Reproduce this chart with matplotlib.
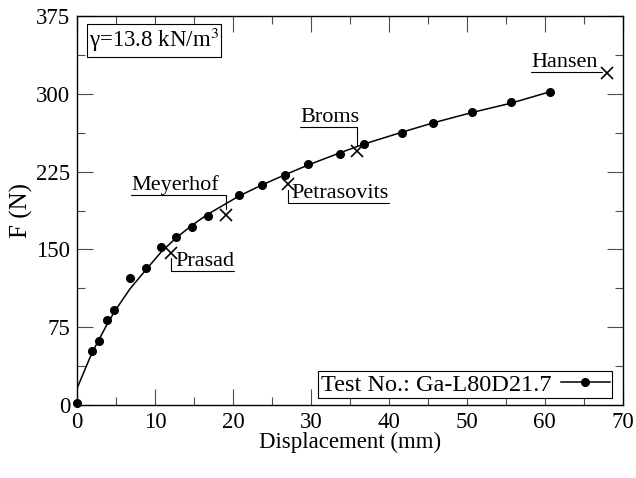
import matplotlib
matplotlib.use('Agg')
import matplotlib.pyplot as plt

plt.rcParams['font.family'] = ['Liberation Serif', 'DejaVu Serif']
plt.rcParams['mathtext.fontset'] = 'stix'

# measured points (displacement mm, force N)
disp = [0, 1.9, 2.8, 3.8, 4.8, 6.8, 8.8, 10.8, 12.7, 14.8, 16.8, 20.8,
        23.7, 26.7, 29.7, 33.7, 36.8, 41.7, 45.7, 50.7, 55.7, 60.7]
force = [2, 52, 62, 82, 92, 122, 132, 152, 162, 172, 182, 202,
         212, 222, 232, 242, 252, 262, 272, 282, 292, 302]

# fitted curve
fit_x = [0, 1.9, 3.8, 4.8, 6.8, 8.8, 10.8, 12.7, 14.8, 16.8, 20.8,
         23.7, 26.7, 29.7, 33.7, 36.8, 41.7, 45.7, 50.7, 55.7, 60.7]
fit_y = [16, 50, 77, 90, 112, 130, 147.5, 161, 173.5, 184, 201.5,
         212, 222, 231.5, 243, 251.5, 263, 272, 282, 291, 302]

# predicted capacities
methods = ['Prasad', 'Meyerhof', 'Petrasovits', 'Broms', 'Hansen']
pred_x = [12.07, 19.08, 27.04, 35.9, 68.05]
pred_y = [146.8, 183.6, 212.8, 244.4, 319.8]

fig = plt.figure(figsize=(6.36, 4.78), dpi=100)
ax = fig.add_axes([0.1211, 0.1527, 0.8577, 0.8138])

ax.plot(fit_x, fit_y, '-k', lw=1.1, zorder=2)
ax.plot(disp, force, 'ok', ms=5.5, zorder=3, clip_on=False)
ax.plot(pred_x, pred_y, 'xk', ms=9, mew=1.2, zorder=3, clip_on=False)
ax.plot([], [], '-ok', ms=5.5, lw=1.1, label='Test No.: Ga-L80D21.7')

# label offsets (points) and which corner of the label the leader leaves from
offsets = [(2.9, -13), (-68, 13.8), (2.9, -13.6), (-40.6, 17.6), (-55, 0.8)]
corners = [(1, 0), (0, 0), (1, 0), (0, 0), (0, 0)]
for name, px, py, off, rp in zip(methods, pred_x, pred_y, offsets, corners):
    ax.annotate(name, (px, py), xytext=off, textcoords='offset points',
                ha='left', va='bottom', fontsize=16,
                bbox=dict(boxstyle='square,pad=0.16', fc='none', ec='none'),
                arrowprops=dict(arrowstyle='-', color='k', lw=0.8,
                                relpos=rp, patchA=None, shrinkA=0, shrinkB=4,
                                connectionstyle='angle,angleA=0,angleB=90,rad=0'))

ax.text(0.022, 0.974, 'γ=13.8 kN/m$^3$', transform=ax.transAxes,
        ha='left', va='top', fontsize=16.5, zorder=5,
        bbox=dict(boxstyle='square,pad=0.1', fc='white', ec='k', lw=0.8))

ax.set_xlim(0, 70)
ax.set_ylim(0, 375)
ax.set_xticks(range(0, 71, 10))
ax.set_xticks(range(5, 70, 10), minor=True)
ax.set_yticks([0, 75, 150, 225, 300, 375])
ax.set_yticks([37.5, 112.5, 187.5, 262.5, 337.5], minor=True)
ax.tick_params(which='both', direction='in', top=True, right=True,
               labelsize=16.5, width=0.8, color='0.3')
ax.tick_params(which='major', length=11.5, pad=5)
ax.tick_params(which='minor', length=5.8)
for s in ax.spines.values():
    s.set_linewidth(1.0)

ax.set_xlabel('Displacement (mm)', fontsize=16.5, labelpad=-1)
ax.set_ylabel('F (N)', fontsize=18, labelpad=2)

leg = ax.legend(loc='lower right', bbox_to_anchor=(0.981, 0.018),
                borderaxespad=0, fontsize=17.5, markerfirst=False,
                fancybox=False, edgecolor='k', framealpha=1,
                handlelength=2.0, borderpad=0.1, handletextpad=0.4)
leg.get_frame().set_linewidth(0.8)

fig.savefig('out.png', dpi=100)
